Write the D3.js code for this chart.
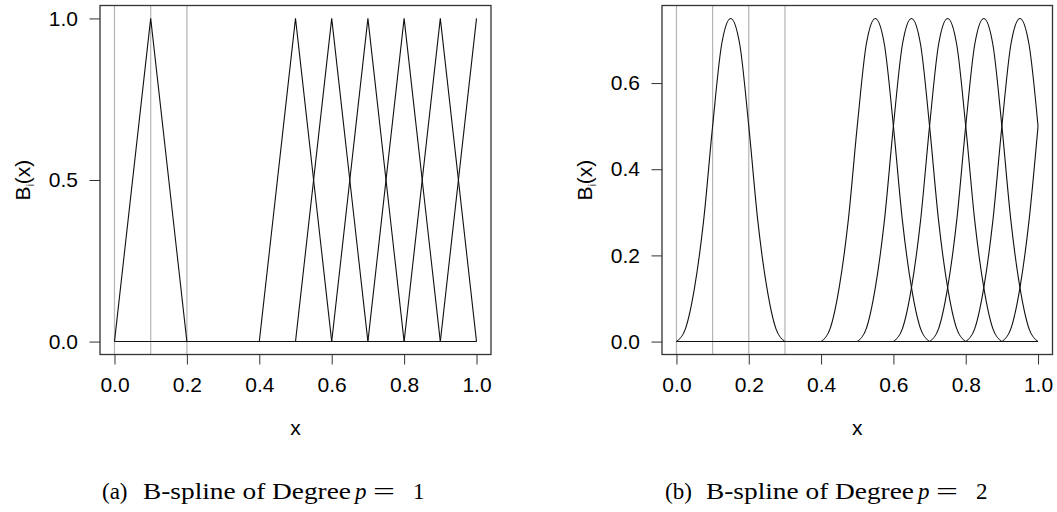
<!DOCTYPE html>
<html>
<head>
<meta charset="utf-8">
<script src="https://cdn.jsdelivr.net/npm/d3@7"></script>
<style>
  body { margin: 0; background: #fff; }
  svg { display: block; }
  .axis text { font-family: "Liberation Sans", Arial, sans-serif; font-size: 21px; fill: #000; }
  .axis line { stroke: #333; }
  .cap { font-family: "Liberation Serif", "Times New Roman", serif; font-size: 23px; fill: #000; }
</style>
</head>
<body>
<div id="chart"></div>
<script>
// knots marked with grey vertical lines
const knotsA = [0, 0.1, 0.2];
const knotsB = [0, 0.1, 0.2, 0.3];

// degree 1: each basis function as its vertices [x, y]
const linearBasis = [
    [[0, 0], [0.1, 1], [0.2, 0]],
    [[0.4, 0], [0.5, 1], [0.6, 0]],
    [[0.5, 0], [0.6, 1], [0.7, 0]],
    [[0.6, 0], [0.7, 1], [0.8, 0]],
    [[0.7, 0], [0.8, 1], [0.9, 0]],
    [[0.8, 0], [0.9, 1], [1.0, 0]],
    [[0.9, 0], [1.0, 1]],
    [[0, 0], [1.0, 0]]
];

const quadOffsets = [0, 0.025, 0.05, 0.075, 0.1, 0.125, 0.15, 0.175, 0.2, 0.225, 0.25, 0.275, 0.3];
const quadValues  = [0, 0.03, 0.125, 0.28, 0.5, 0.69, 0.75, 0.69, 0.5, 0.28, 0.125, 0.03, 0];
const quadStarts  = [0, 0.4, 0.5, 0.6, 0.7, 0.8, 0.9];
const quadZero    = [[0, 0], [1.0, 0]];

const xTicks = [0, 0.2, 0.4, 0.6, 0.8, 1.0];
const yTicksA = [0, 0.5, 1.0];
const yTicksB = [0, 0.2, 0.4, 0.6];

const W = 1057, H = 512;

const svg = d3.select("#chart").append("svg")
    .attr("width", W)
    .attr("height", H);

// build the degree 2 curves, clipped to [0, 1]
let quadBasis = quadStarts.map(s =>
    quadOffsets.map((o, i) => [s + o, quadValues[i]])
        .filter(p => p[0] <= 1.0 + 1e-9)
);
quadBasis.push(quadZero);

function drawPanel(opts) {
    let box = opts.box;

    let x = d3.scaleLinear().domain([-0.04, 1.04]).range([box.left, box.right]);
    let yMax = opts.yMax;
    let y = d3.scaleLinear()
        .domain([-0.04 * yMax, 1.04 * yMax])
        .range([box.bottom, box.top]);

    let g = svg.append("g");

    // knot lines
    g.selectAll(".knot")
        .data(opts.knots)
        .enter()
        .append("line")
        .attr("class", "knot")
        .attr("x1", d => x(d)).attr("x2", d => x(d))
        .attr("y1", box.top).attr("y2", box.bottom)
        .attr("stroke", "#b4b4b4")
        .attr("stroke-width", 1.2);

    let line = d3.line()
        .x(d => x(d[0]))
        .y(d => y(d[1]))
        .curve(opts.curve);

    g.selectAll(".basis")
        .data(opts.series)
        .enter()
        .append("path")
        .attr("class", "basis")
        .attr("d", line)
        .attr("fill", "none")
        .attr("stroke", "#111")
        .attr("stroke-width", 1.1);

    // frame
    g.append("rect")
        .attr("x", box.left).attr("y", box.top)
        .attr("width", box.right - box.left)
        .attr("height", box.bottom - box.top)
        .attr("fill", "none")
        .attr("stroke", "#333")
        .attr("stroke-width", 1.3);

    let xAxis = d3.axisBottom(x)
        .tickValues(xTicks)
        .tickFormat(d3.format(".1f"))
        .tickSize(10)
        .tickSizeOuter(0)
        .tickPadding(12.5);

    let yAxis = d3.axisLeft(y)
        .tickValues(opts.yTicks)
        .tickFormat(d3.format(".1f"))
        .tickSize(10.5)
        .tickSizeOuter(0)
        .tickPadding(11.5);

    g.append("g")
        .attr("class", "axis x-axis")
        .attr("transform", `translate(0,${box.bottom})`)
        .call(xAxis)
        .call(a => a.select(".domain").remove());

    g.append("g")
        .attr("class", "axis y-axis")
        .attr("transform", `translate(${box.left},0)`)
        .call(yAxis)
        .call(a => a.select(".domain").remove());

    // axis titles
    g.append("text")
        .attr("class", "axis-title")
        .attr("x", (box.left + box.right) / 2)
        .attr("y", 435)
        .attr("text-anchor", "middle")
        .style("font-family", "Liberation Sans, Arial, sans-serif")
        .style("font-size", "21px")
        .text("x");

    let yl = g.append("text")
        .attr("transform", `translate(${box.left - 70},${(box.top + box.bottom) / 2}) rotate(-90)`)
        .attr("text-anchor", "middle")
        .style("font-family", "Liberation Sans, Arial, sans-serif")
        .style("font-size", "21px");
    yl.append("tspan").text("B");
    yl.append("tspan").attr("dy", 4).style("font-size", "10px").text("i");
    yl.append("tspan").attr("dy", -4).text("(x)");

    // caption
    let c = opts.capLeft;
    let cap = svg.append("g").attr("class", "cap");
    cap.append("text").attr("x", c).attr("y", 499).text(opts.capLabel);
    cap.append("text").attr("x", c + 41).attr("y", 499)
        .attr("textLength", 208).attr("lengthAdjust", "spacingAndGlyphs")
        .text("B-spline of Degree");
    cap.append("text").attr("x", c + 253).attr("y", 499)
        .style("font-style", "italic").text("p");
    cap.append("text").attr("x", c + 271).attr("y", 499)
        .attr("textLength", 22).attr("lengthAdjust", "spacingAndGlyphs")
        .text("=");
    cap.append("text").attr("x", c + 311).attr("y", 499).text(opts.capDegree);
}

drawPanel({
    box: {left: 100, right: 491, top: 5.5, bottom: 354.5},
    yMax: 1.0,
    yTicks: yTicksA,
    knots: knotsA,
    series: linearBasis,
    curve: d3.curveLinear,
    capLeft: 102,
    capLabel: "(a)",
    capDegree: "1"
});

drawPanel({
    box: {left: 662, right: 1052.5, top: 5.5, bottom: 354.5},
    yMax: 0.75,
    yTicks: yTicksB,
    knots: knotsB,
    series: quadBasis,
    curve: d3.curveMonotoneX,
    capLeft: 665,
    capLabel: "(b)",
    capDegree: "2"
});
</script>
</body>
</html>
